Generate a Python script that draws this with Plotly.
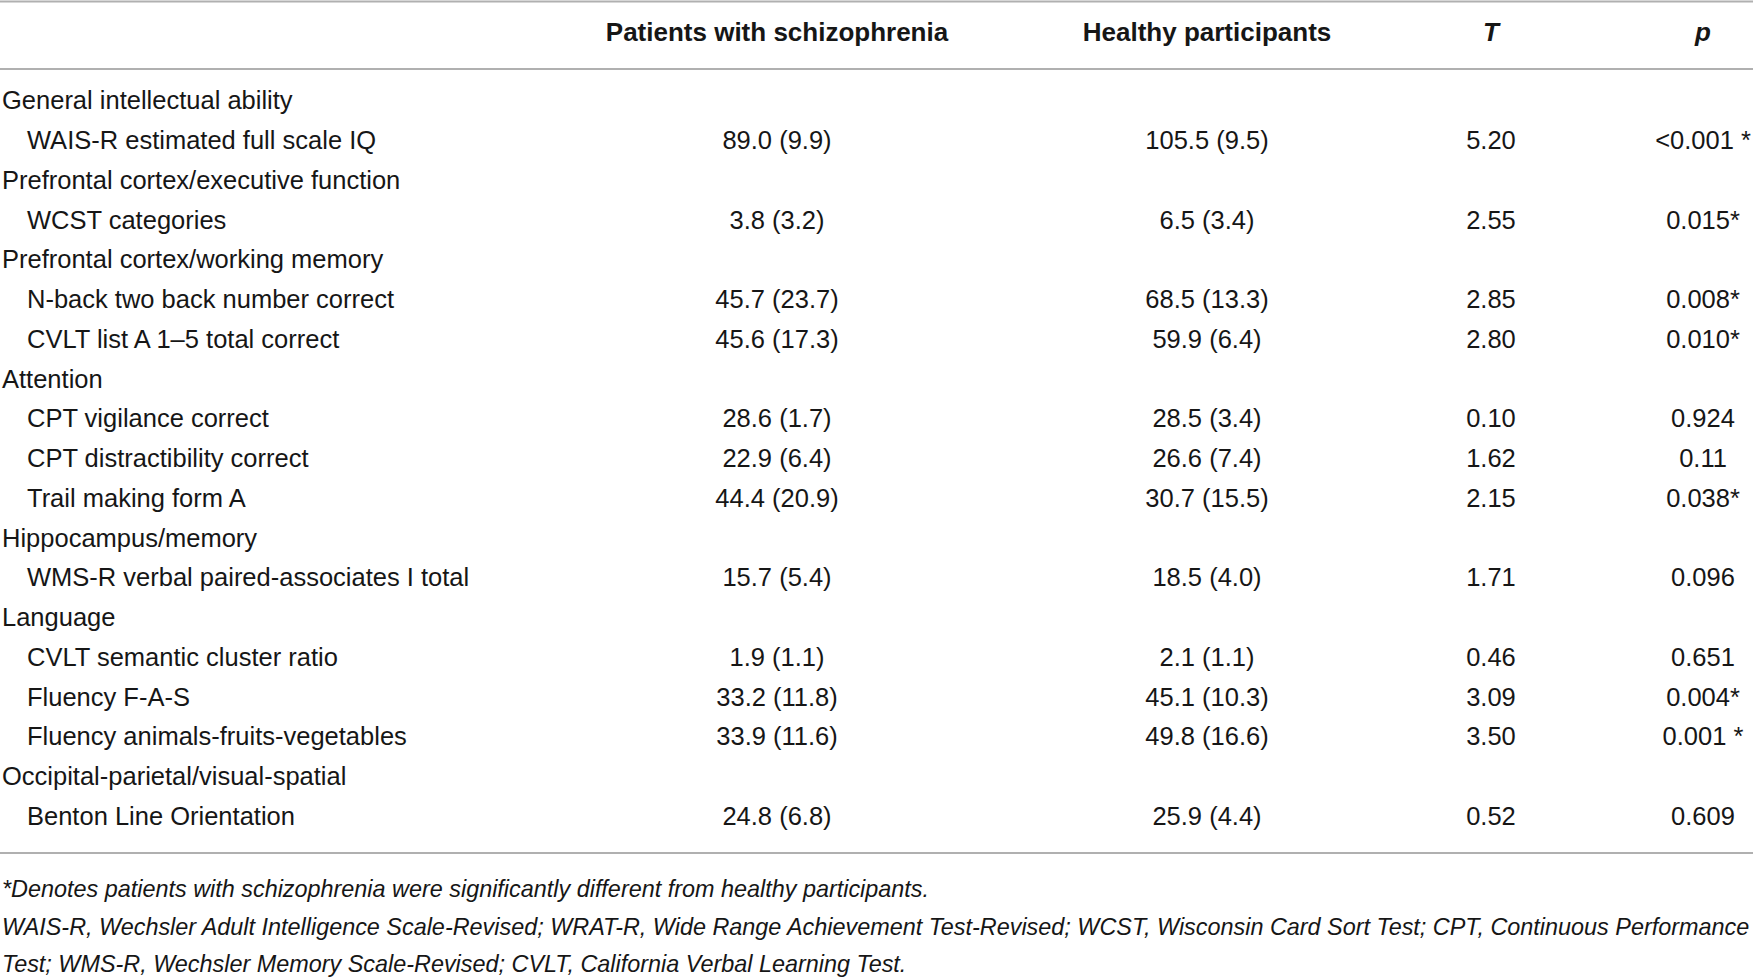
import plotly.graph_objects as go

W, H = 1753, 977

HEADERS = ["Patients with schizophrenia", "Healthy participants", "T", "p"]

# group rows have empty values
LABELS = [
    "General intellectual ability",
    "WAIS-R estimated full scale IQ",
    "Prefrontal cortex/executive function",
    "WCST categories",
    "Prefrontal cortex/working memory",
    "N-back two back number correct",
    "CVLT list A 1–5 total correct",
    "Attention",
    "CPT vigilance correct",
    "CPT distractibility correct",
    "Trail making form A",
    "Hippocampus/memory",
    "WMS-R verbal paired-associates I total",
    "Language",
    "CVLT semantic cluster ratio",
    "Fluency F-A-S",
    "Fluency animals-fruits-vegetables",
    "Occipital-parietal/visual-spatial",
    "Benton Line Orientation",
]
IS_GROUP = [1, 0, 1, 0, 1, 0, 0, 1, 0, 0, 0, 1, 0, 1, 0, 0, 0, 1, 0]
PATIENTS = ["", "89.0 (9.9)", "", "3.8 (3.2)", "", "45.7 (23.7)", "45.6 (17.3)", "",
            "28.6 (1.7)", "22.9 (6.4)", "44.4 (20.9)", "", "15.7 (5.4)", "",
            "1.9 (1.1)", "33.2 (11.8)", "33.9 (11.6)", "", "24.8 (6.8)"]
HEALTHY = ["", "105.5 (9.5)", "", "6.5 (3.4)", "", "68.5 (13.3)", "59.9 (6.4)", "",
           "28.5 (3.4)", "26.6 (7.4)", "30.7 (15.5)", "", "18.5 (4.0)", "",
           "2.1 (1.1)", "45.1 (10.3)", "49.8 (16.6)", "", "25.9 (4.4)"]
T_VALS = ["", "5.20", "", "2.55", "", "2.85", "2.80", "",
          "0.10", "1.62", "2.15", "", "1.71", "",
          "0.46", "3.09", "3.50", "", "0.52"]
P_VALS = ["", "<0.001 *", "", "0.015*", "", "0.008*", "0.010*", "",
          "0.924", "0.11", "0.038*", "", "0.096", "",
          "0.651", "0.004*", "0.001 *", "", "0.609"]

FOOTNOTES = [
    "*Denotes patients with schizophrenia were significantly different from healthy participants.",
    "WAIS-R, Wechsler Adult Intelligence Scale-Revised; WRAT-R, Wide Range Achievement Test-Revised; "
    "WCST, Wisconsin Card Sort Test; CPT, Continuous Performance",
    "Test; WMS-R, Wechsler Memory Scale-Revised; CVLT, California Verbal Learning Test.",
]

FONT = "Liberation Sans, Arial, sans-serif"
TEXT = "#161616"
RULE = "#b0b0b0"

# page layout in pixels: row i sits at ROW0 + i * ROW_H from the top
ROW0, ROW_H = 103, 39.75
GROUP_X, ITEM_X = 2, 27
COL_X = [777, 1207, 1491, 1703]


def row_of(ypx):
    return (ypx - ROW0) / ROW_H


rows = list(range(len(LABELS)))
fig = go.Figure()

groups = [i for i in rows if IS_GROUP[i]]
items = [i for i in rows if not IS_GROUP[i]]
for idx, x in [(groups, GROUP_X), (items, ITEM_X)]:
    fig.add_trace(go.Scatter(
        x=[x] * len(idx), y=idx,
        text=[LABELS[i] for i in idx],
        mode="text", textposition="middle right",
        textfont=dict(family=FONT, size=25.5, color=TEXT),
        cliponaxis=False, hoverinfo="skip",
    ))

for x, col in zip(COL_X, [PATIENTS, HEALTHY, T_VALS, P_VALS]):
    fig.add_trace(go.Scatter(
        x=[x] * len(rows), y=rows, text=col,
        mode="text", textposition="middle center",
        textfont=dict(family=FONT, size=25.5, color=TEXT),
        cliponaxis=False, hoverinfo="skip",
    ))

fig.add_trace(go.Scatter(
    x=COL_X, y=[row_of(34)] * len(HEADERS),
    text=["<b>" + HEADERS[0] + "</b>", "<b>" + HEADERS[1] + "</b>",
          "<b><i>" + HEADERS[2] + "</i></b>", "<b><i>" + HEADERS[3] + "</i></b>"],
    mode="text", textposition="middle center",
    textfont=dict(family=FONT, size=26, color=TEXT),
    cliponaxis=False, hoverinfo="skip",
))

# horizontal rules: top, under header, bottom of body
for ypx in [1.5, 69, 853]:
    fig.add_shape(type="line", xref="paper", yref="y",
                  x0=0, x1=1, y0=row_of(ypx), y1=row_of(ypx),
                  line=dict(color=RULE, width=2))

for i, note in enumerate(FOOTNOTES):
    fig.add_annotation(
        text="<i>" + note + "</i>",
        xref="x", yref="y",
        x=0, y=row_of(889 + 37.5 * i),
        xanchor="left", yanchor="middle",
        showarrow=False,
        font=dict(family=FONT, size=23.4, color=TEXT),
    )

fig.update_xaxes(range=[0, W], visible=False, fixedrange=True)
fig.update_yaxes(range=[row_of(H), row_of(0)], visible=False, fixedrange=True)
fig.update_layout(
    width=W, height=H,
    margin=dict(l=0, r=0, t=0, b=0, pad=0),
    paper_bgcolor="white",
    plot_bgcolor="white",
    showlegend=False,
)

fig.write_html("out.html", config={"displayModeBar": False},
               post_script="document.body.style.margin='0';")
